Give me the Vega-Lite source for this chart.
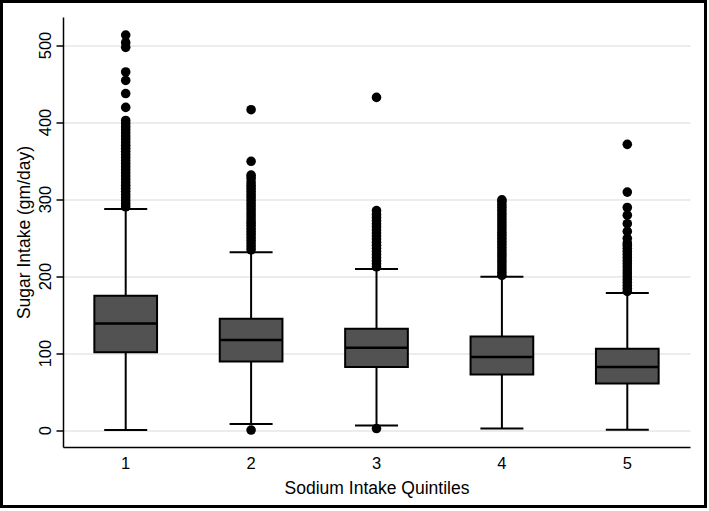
{
  "$schema": "https://vega.github.io/schema/vega-lite/v6.json",
  "width": 704,
  "height": 505,
  "autosize": {"type": "none"},
  "padding": {"left": 1.5, "top": 1.5, "right": 3.5, "bottom": 4.5},
  "background": "white",
  "config": {"view": {"stroke": "black", "strokeWidth": 3}, "font": "Liberation Sans"},
  "datasets": {
    "boxes": [
      {"q": "1", "lo": 0, "q1": 101, "med": 138.5, "q3": 174.5, "hi": 287},
      {"q": "2", "lo": 8, "q1": 89, "med": 117, "q3": 144.5, "hi": 231},
      {"q": "3", "lo": 6, "q1": 82, "med": 107, "q3": 131.5, "hi": 209},
      {"q": "4", "lo": 2, "q1": 72, "med": 95, "q3": 121.5, "hi": 199},
      {"q": "5", "lo": 0.5, "q1": 60.5, "med": 82, "q3": 105.5, "hi": 178}
    ],
    "outliers": [
      {"q": "1", "v": 290}, {"q": "1", "v": 294}, {"q": "1", "v": 298}, {"q": "1", "v": 302}, {"q": "1", "v": 306},
      {"q": "1", "v": 310}, {"q": "1", "v": 314}, {"q": "1", "v": 318}, {"q": "1", "v": 322}, {"q": "1", "v": 326},
      {"q": "1", "v": 330}, {"q": "1", "v": 334}, {"q": "1", "v": 338}, {"q": "1", "v": 342}, {"q": "1", "v": 346},
      {"q": "1", "v": 350}, {"q": "1", "v": 354}, {"q": "1", "v": 358}, {"q": "1", "v": 362}, {"q": "1", "v": 366},
      {"q": "1", "v": 370}, {"q": "1", "v": 374}, {"q": "1", "v": 378}, {"q": "1", "v": 382}, {"q": "1", "v": 386},
      {"q": "1", "v": 390}, {"q": "1", "v": 394}, {"q": "1", "v": 398}, {"q": "1", "v": 402}, {"q": "1", "v": 419},
      {"q": "1", "v": 437}, {"q": "1", "v": 454}, {"q": "1", "v": 465}, {"q": "1", "v": 497}, {"q": "1", "v": 503},
      {"q": "1", "v": 513},
      {"q": "2", "v": 0}, {"q": "2", "v": 234}, {"q": "2", "v": 238}, {"q": "2", "v": 242}, {"q": "2", "v": 246},
      {"q": "2", "v": 250}, {"q": "2", "v": 254}, {"q": "2", "v": 258}, {"q": "2", "v": 262}, {"q": "2", "v": 266},
      {"q": "2", "v": 270}, {"q": "2", "v": 274}, {"q": "2", "v": 278}, {"q": "2", "v": 282}, {"q": "2", "v": 286},
      {"q": "2", "v": 290}, {"q": "2", "v": 294}, {"q": "2", "v": 298}, {"q": "2", "v": 302}, {"q": "2", "v": 306},
      {"q": "2", "v": 310}, {"q": "2", "v": 314}, {"q": "2", "v": 318}, {"q": "2", "v": 322}, {"q": "2", "v": 327},
      {"q": "2", "v": 331}, {"q": "2", "v": 349}, {"q": "2", "v": 416},
      {"q": "3", "v": 2}, {"q": "3", "v": 212}, {"q": "3", "v": 216}, {"q": "3", "v": 220}, {"q": "3", "v": 224},
      {"q": "3", "v": 228}, {"q": "3", "v": 232}, {"q": "3", "v": 236}, {"q": "3", "v": 240}, {"q": "3", "v": 244},
      {"q": "3", "v": 248}, {"q": "3", "v": 252}, {"q": "3", "v": 256}, {"q": "3", "v": 260}, {"q": "3", "v": 264},
      {"q": "3", "v": 268}, {"q": "3", "v": 272}, {"q": "3", "v": 276}, {"q": "3", "v": 280}, {"q": "3", "v": 285},
      {"q": "3", "v": 432},
      {"q": "4", "v": 201}, {"q": "4", "v": 205}, {"q": "4", "v": 209}, {"q": "4", "v": 213}, {"q": "4", "v": 217},
      {"q": "4", "v": 221}, {"q": "4", "v": 225}, {"q": "4", "v": 229}, {"q": "4", "v": 233}, {"q": "4", "v": 237},
      {"q": "4", "v": 241}, {"q": "4", "v": 245}, {"q": "4", "v": 249}, {"q": "4", "v": 253}, {"q": "4", "v": 257},
      {"q": "4", "v": 261}, {"q": "4", "v": 265}, {"q": "4", "v": 269}, {"q": "4", "v": 273}, {"q": "4", "v": 277},
      {"q": "4", "v": 281}, {"q": "4", "v": 285}, {"q": "4", "v": 289}, {"q": "4", "v": 293}, {"q": "4", "v": 297},
      {"q": "4", "v": 299},
      {"q": "5", "v": 180}, {"q": "5", "v": 184}, {"q": "5", "v": 188}, {"q": "5", "v": 192}, {"q": "5", "v": 196},
      {"q": "5", "v": 200}, {"q": "5", "v": 204}, {"q": "5", "v": 208}, {"q": "5", "v": 212}, {"q": "5", "v": 216},
      {"q": "5", "v": 220}, {"q": "5", "v": 224}, {"q": "5", "v": 228}, {"q": "5", "v": 232}, {"q": "5", "v": 236},
      {"q": "5", "v": 240}, {"q": "5", "v": 243}, {"q": "5", "v": 249}, {"q": "5", "v": 258}, {"q": "5", "v": 268},
      {"q": "5", "v": 279}, {"q": "5", "v": 289}, {"q": "5", "v": 309}, {"q": "5", "v": 371}
    ]
  },
  "layer": [
    {
      "data": {"name": "boxes"},
      "mark": {"type": "rule", "color": "black", "strokeWidth": 2},
      "encoding": {
        "x": {
          "field": "q", "type": "nominal",
          "scale": {"range": [61.5, 688.5], "paddingInner": 0, "paddingOuter": 0},
          "axis": {
            "title": "Sodium Intake Quintiles", "offset": -59.5, "labelAngle": 0,
            "ticks": false, "tickSize": 0, "grid": false,
            "domainColor": "black", "domainWidth": 1.5,
            "labelPadding": 8, "labelFontSize": 16.5, "labelColor": "black",
            "titleFontSize": 17.5, "titleFontWeight": "normal", "titleColor": "black", "titlePadding": 8
          }
        },
        "y": {
          "field": "lo", "type": "quantitative",
          "scale": {"domain": [-22, 536.4], "range": [445.5, 15.5], "nice": false, "zero": false},
          "axis": {
            "title": "Sugar Intake (gm/day)", "values": [0, 100, 200, 300, 400, 500], "offset": -61.5,
            "grid": true, "gridColor": "#e6e6e6", "gridWidth": 1.5,
            "domainColor": "black", "domainWidth": 1.5,
            "tickColor": "black", "tickSize": 7, "tickWidth": 1.5,
            "labelAngle": -90, "labelAlign": "center", "labelBaseline": "alphabetic", "labelPadding": 6,
            "labelFontSize": 16.5, "labelColor": "black",
            "titleFontSize": 17.5, "titleFontWeight": "normal", "titleColor": "black", "titlePadding": 4
          }
        },
        "y2": {"field": "hi"}
      }
    },
    {
      "data": {"name": "boxes"},
      "mark": {"type": "bar", "fill": "#525252", "stroke": "black", "strokeWidth": 2, "width": {"band": 0.5}},
      "encoding": {
        "x": {"field": "q", "type": "nominal"},
        "y": {"field": "q1", "type": "quantitative"},
        "y2": {"field": "q3"}
      }
    },
    {
      "data": {"name": "boxes"},
      "mark": {"type": "tick", "color": "black", "thickness": 2.5, "size": 62, "opacity": 1},
      "encoding": {
        "x": {"field": "q", "type": "nominal"},
        "y": {"field": "med", "type": "quantitative"}
      }
    },
    {
      "data": {"name": "boxes"},
      "mark": {"type": "tick", "color": "black", "thickness": 2, "size": 43, "opacity": 1},
      "encoding": {
        "x": {"field": "q", "type": "nominal"},
        "y": {"field": "lo", "type": "quantitative"}
      }
    },
    {
      "data": {"name": "boxes"},
      "mark": {"type": "tick", "color": "black", "thickness": 2, "size": 43, "opacity": 1},
      "encoding": {
        "x": {"field": "q", "type": "nominal"},
        "y": {"field": "hi", "type": "quantitative"}
      }
    },
    {
      "data": {"name": "outliers"},
      "mark": {"type": "circle", "color": "black", "opacity": 1, "size": 92},
      "encoding": {
        "x": {"field": "q", "type": "nominal"},
        "y": {"field": "v", "type": "quantitative"}
      }
    }
  ]
}
